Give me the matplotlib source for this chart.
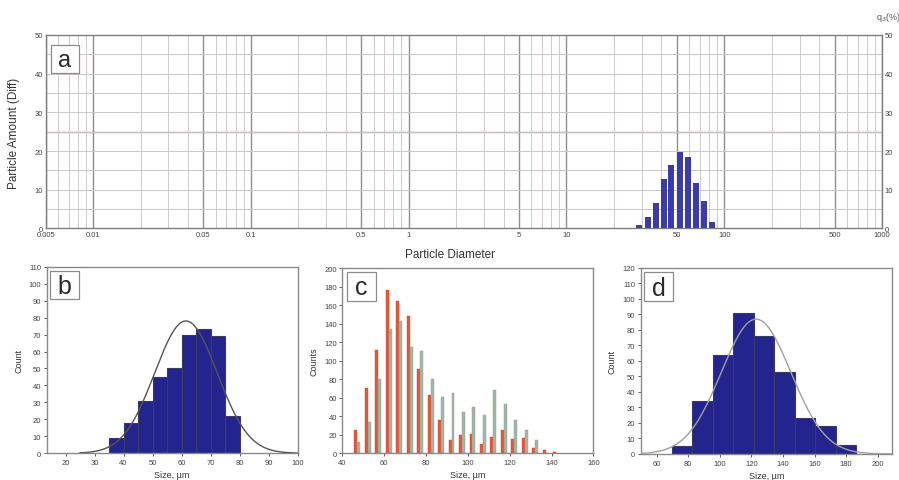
import matplotlib
matplotlib.use('Agg')
import matplotlib.pyplot as plt
import numpy as np
from matplotlib.patches import Rectangle
from matplotlib.ticker import FixedLocator, NullFormatter

plt.rcParams['font.family'] = ['Liberation Sans', 'DejaVu Sans']

# ---------------- data ----------------
# panel a: laser diffraction distribution
a_diam = [28.9, 32.7, 36.7, 41.4, 46.3, 52.3, 58.5, 65.8, 73.9, 83.2]
a_q3 = [0.9, 3.0, 6.6, 12.7, 16.4, 19.8, 18.6, 11.7, 7.2, 1.7]
a_tick_vals = [0.005, 0.01, 0.05, 0.1, 0.5, 1, 5, 10, 50, 100, 500, 1000]
a_tick_labels = ['0.005', '0.01', '0.05', '0.1', '0.5', '1', '5', '10', '50', '100', '500', '1000']

# panel b: histogram
b_edges = [35, 40, 45, 50, 55, 60, 65, 70, 75, 80]
b_counts = [9, 18, 31, 45, 50, 70, 73, 69, 22]
b_fit_mean, b_fit_sd, b_fit_peak = 61.5, 10.8, 78

# panel c: two-series histogram
c_bin_start = [45, 50, 55, 60, 65, 70, 75, 80, 85, 90, 95, 100, 105, 110, 115, 120, 125, 130, 135, 140]
c_red = [25, 71, 112, 176, 165, 148, 91, 63, 36, 14, 20, 21, 10, 18, 25, 15, 17, 6, 4, 1.5]
c_green = [12, 34, 80, 134, 143, 115, 110, 80, 61, 65, 45, 50, 41, 68, 53, 36, 25, 14, 0, 0]

# panel d: histogram
d_edges = [69.5, 82.5, 95.5, 108.5, 121.5, 134.5, 147.5, 160.5, 173.5, 186.5]
d_counts = [5, 34, 64, 91, 76, 53, 23, 18, 6]
d_fit_mean, d_fit_sd, d_fit_peak = 123, 22, 87

NAVY = '#24248f'
TICKC = '#444444'
SPINE = '#8a8a8a'

fig = plt.figure(figsize=(8.99, 4.81), dpi=100)


def label_box(ax, x0, y0, x1, y1, txt, fs):
    ax.add_patch(Rectangle((x0, y0), x1 - x0, y1 - y0, transform=ax.transAxes,
                           facecolor='white', edgecolor='#8c8c8c', lw=0.9, zorder=6, clip_on=False))
    ax.text((x0 + x1) / 2, (y0 + y1) / 2 - 0.005, txt, transform=ax.transAxes, ha='center', va='center',
            fontsize=fs, color='#2a2a2a', zorder=7)


def style_spines(ax, c=SPINE, lw=1.0):
    for s in ax.spines.values():
        s.set_color(c)
        s.set_linewidth(lw)


# ---------------- panel a ----------------
axa = fig.add_axes([0.0508, 0.5229, 0.9303, 0.4023])
axa.set_xscale('log')
axa.set_xlim(0.005, 1000)
axa.set_ylim(0, 50)
w = 0.038
d = np.array(a_diam)
left = d * 10 ** (-w / 2)
right = d * 10 ** (w / 2)
axa.bar(left, a_q3, width=right - left, align='edge', color='#3c3ca8',
        edgecolor='none', zorder=3)
axa.xaxis.set_major_locator(FixedLocator(a_tick_vals))
axa.set_xticklabels(a_tick_labels)
minor = []
for k in range(-3, 3):
    for m in [2, 3, 4, 6, 7, 8, 9]:
        v = m * 10.0 ** k
        if 0.005 < v < 1000:
            minor.append(v)
axa.xaxis.set_minor_locator(FixedLocator(minor))
axa.xaxis.set_minor_formatter(NullFormatter())
axa.set_yticks(range(0, 51, 10))
axa.set_yticks(range(5, 50, 10), minor=True)
axa.grid(which='major', axis='x', color='#8e8e8e', lw=1.0, zorder=1)
axa.grid(which='minor', axis='x', color='#d2caca', lw=0.7, zorder=1)
axa.grid(which='both', axis='y', color='#cdc6c6', lw=0.7, zorder=1)
axa.axhline(25, color='#8e8e8e', lw=1.0, zorder=1)
axa.tick_params(which='both', length=0, labelsize=5.5, colors=TICKC, pad=2,
                labelright=True, right=True)
style_spines(axa, '#7d7d7d', 1.0)
label_box(axa, 0.006, 0.804, 0.0398, 0.948, 'a', 17)
fig.text(14 / 899, 1 - 133 / 481, 'Particle Amount (Diff)', rotation=90, ha='center', va='center',
         fontsize=8.5, color='#333333')
fig.text(450 / 899, 1 - 255 / 481, 'Particle Diameter', ha='center', va='center',
         fontsize=8.5, color='#333333')
fig.text(888 / 899, 1 - 18 / 481, 'q$_3$(%)', ha='center', va='center', fontsize=6.5, color='#555555')


def small_axes_style(ax):
    ax.tick_params(length=2, width=0.6, labelsize=5.5, colors=TICKC, pad=2)
    style_spines(ax)


# ---------------- panel b ----------------
axb = fig.add_axes([0.0519, 0.0555, 0.2792, 0.388])
be = np.array(b_edges)
axb.bar(be[:-1], b_counts, width=np.diff(be), align='edge', color=NAVY,
        edgecolor='#3a3a60', lw=0.8, zorder=2)
xb = np.linspace(25, 100, 300)
axb.plot(xb, b_fit_peak * np.exp(-0.5 * ((xb - b_fit_mean) / b_fit_sd) ** 2), color='#555555', lw=1.0, zorder=3)
axb.set_xlim(13.5, 100)
axb.set_ylim(0, 110)
axb.set_xticks(range(20, 101, 10))
axb.set_yticks(range(0, 111, 10))
small_axes_style(axb)
axb.set_xlabel('Size, µm', fontsize=6.5, color='#333333', labelpad=3)
axb.set_ylabel('Count', fontsize=6.5, color='#333333', labelpad=4)
label_box(axb, 0.013, 0.827, 0.129, 0.979, 'b', 18)

# ---------------- panel c ----------------
axc = fig.add_axes([0.3808, 0.0555, 0.2792, 0.385])
cs = np.array(c_bin_start)
axc.bar(cs + 1.5, c_red, width=1.4, color='#e4573a', edgecolor='#c84a30', lw=0.3, zorder=2)
axc.bar(cs + 2.9, c_green, width=1.4, color='#a3b5a6', edgecolor='#90a092', lw=0.3, zorder=2)
axc.set_xlim(40, 160)
axc.set_ylim(0, 200)
axc.set_xticks(range(40, 161, 20))
axc.set_yticks(range(0, 201, 20))
small_axes_style(axc)
axc.set_xlabel('Size, µm', fontsize=6.5, color='#333333', labelpad=3)
axc.set_ylabel('Counts', fontsize=6.5, color='#333333', labelpad=4)
label_box(axc, 0.020, 0.824, 0.133, 0.977, 'c', 18)

# ---------------- panel d ----------------
axd = fig.add_axes([0.7127, 0.0541, 0.2795, 0.3867])
de = np.array(d_edges)
axd.bar(de[:-1], d_counts, width=np.diff(de), align='edge', color=NAVY,
        edgecolor='#3a3a60', lw=0.8, zorder=2)
xd = np.linspace(50, 209, 300)
axd.plot(xd, d_fit_peak * np.exp(-0.5 * ((xd - d_fit_mean) / d_fit_sd) ** 2), color='#a0a0a0', lw=1.0, zorder=3)
axd.set_xlim(50, 209)
axd.set_ylim(0, 120)
axd.set_xticks(range(60, 201, 20))
axd.set_yticks(range(0, 121, 10))
small_axes_style(axd)
axd.set_xlabel('Size, µm', fontsize=6.5, color='#333333', labelpad=3)
axd.set_ylabel('Count', fontsize=6.5, color='#333333', labelpad=4)
label_box(axd, 0.013, 0.821, 0.13, 0.977, 'd', 18)

fig.savefig('out.png', dpi=100)
